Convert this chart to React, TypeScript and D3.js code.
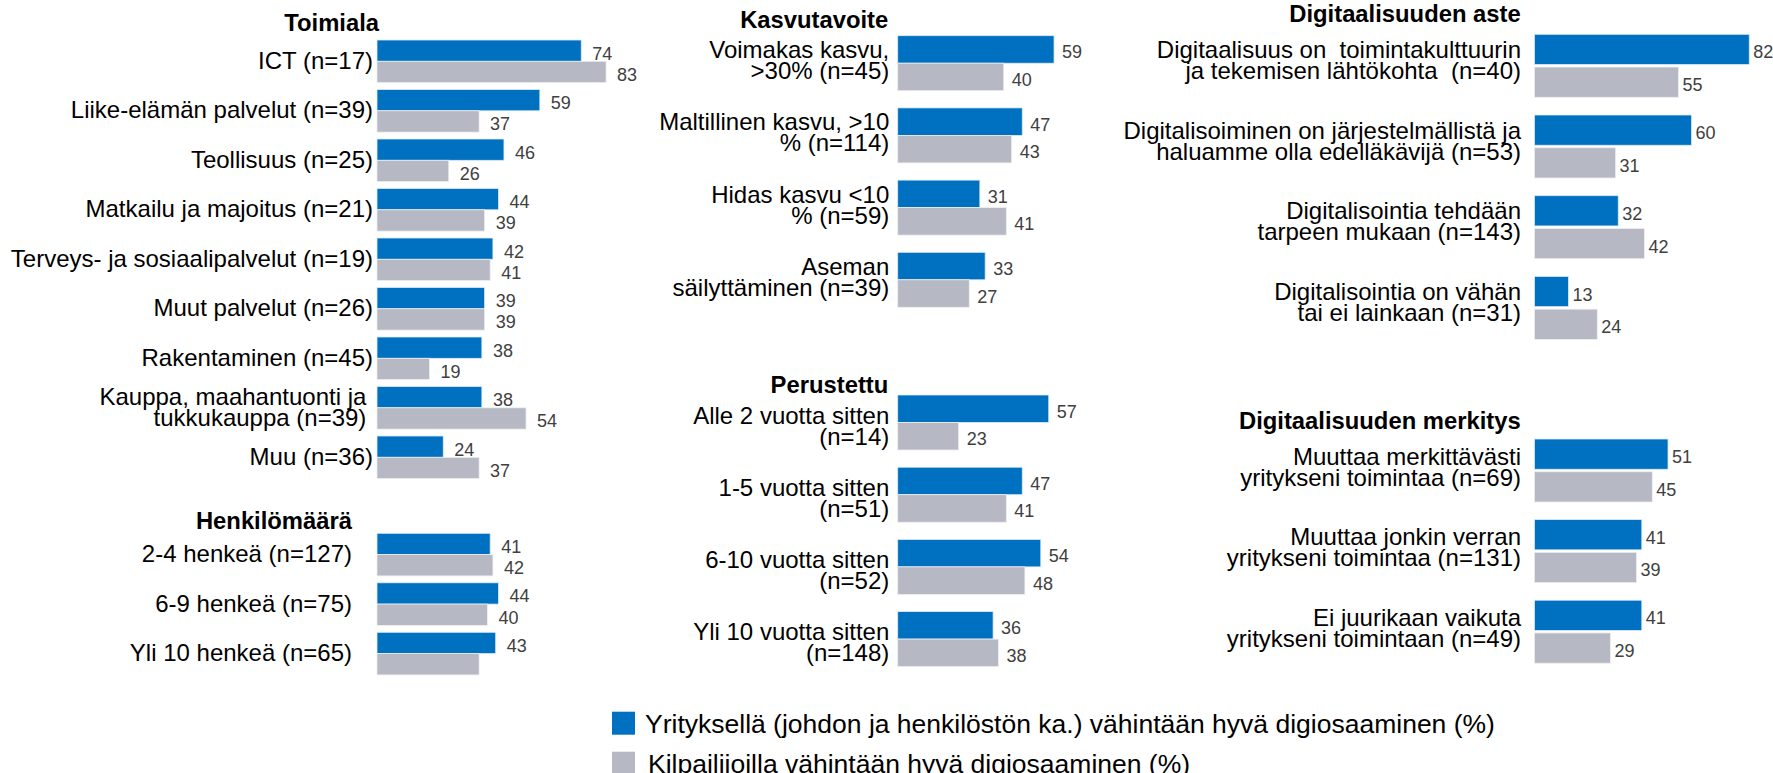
import * as d3 from "d3";

const FONT = '"Liberation Sans", Arial, Helvetica, sans-serif';
const BLUE = "#0070C0";
const GREY = "#B6B8C4";
const VALUE_COLOR = "#404040";

// Toimiala
const toimialaLabels = [
  ["ICT (n=17)"],
  ["Liike-elämän palvelut (n=39)"],
  ["Teollisuus (n=25)"],
  ["Matkailu ja majoitus (n=21)"],
  ["Terveys- ja sosiaalipalvelut (n=19)"],
  ["Muut palvelut (n=26)"],
  ["Rakentaminen (n=45)"],
  ["Kauppa, maahantuonti ja ", "tukkukauppa (n=39) "],
  ["Muu (n=36)"],
];
const toimialaOwn = [74, 59, 46, 44, 42, 39, 38, 38, 24];
const toimialaRivals = [83, 37, 26, 39, 41, 39, 19, 54, 37];

// Henkilömäärä
const henkiloLabels = [["2-4 henkeä (n=127)"], ["6-9 henkeä (n=75)"], ["Yli 10 henkeä (n=65)"]];
const henkiloOwn = [41, 44, 43];
const henkiloRivals = [42, 40, 37];
const henkiloRivalsNoLabel = [2]; // value label missing in the original

// Kasvutavoite
const kasvuLabels = [
  ["Voimakas kasvu,", ">30% (n=45)"],
  ["Maltillinen kasvu, >10", "% (n=114)"],
  ["Hidas kasvu <10", "% (n=59)"],
  ["Aseman", "säilyttäminen (n=39)"],
];
const kasvuOwn = [59, 47, 31, 33];
const kasvuRivals = [40, 43, 41, 27];

// Perustettu
const perustettuLabels = [
  ["Alle 2 vuotta sitten", "(n=14)"],
  ["1-5 vuotta sitten", "(n=51)"],
  ["6-10 vuotta sitten", "(n=52)"],
  ["Yli 10 vuotta sitten", "(n=148)"],
];
const perustettuOwn = [57, 47, 54, 36];
const perustettuRivals = [23, 41, 48, 38];

// Digitaalisuuden aste
const asteLabels = [
  ["Digitaalisuus on  toimintakulttuurin", "ja tekemisen lähtökohta  (n=40)"],
  ["Digitalisoiminen on järjestelmällistä ja", "haluamme olla edelläkävijä (n=53)"],
  ["Digitalisointia tehdään", "tarpeen mukaan (n=143)"],
  ["Digitalisointia on vähän", "tai ei lainkaan (n=31)"],
];
const asteOwn = [82, 60, 32, 13];
const asteRivals = [55, 31, 42, 24];

// Digitaalisuuden merkitys
const merkitysLabels = [
  ["Muuttaa merkittävästi", "yritykseni toimintaa (n=69)"],
  ["Muuttaa jonkin verran", "yritykseni toimintaa (n=131)"],
  ["Ei juurikaan vaikuta", "yritykseni toimintaan (n=49)"],
];
const merkitysOwn = [51, 41, 41];
const merkitysRivals = [45, 39, 29];

const legendItems = [
  "Yrityksellä (johdon ja henkilöstön ka.) vähintään hyvä digiosaaminen (%)",
  "Kilpailijoilla vähintään hyvä digiosaaminen (%)",
];

type Layout = {
  x0: number; // bar start
  k: number; // px per percent
  top: number;
  step: number;
  group: number;
  gap: number;
  labelRight: number;
  titleRight: number;
  titleBaseline: number;
  valueGap: number;
  multiDy: number;
};

const BarPanel = ({
  title,
  labels,
  own,
  rivals,
  hidden = [],
  layout,
}: {
  title: string;
  labels: string[][];
  own: number[];
  rivals: number[];
  hidden?: number[];
  layout: Layout;
}) => {
  const n = labels.length;
  const x = d3
    .scaleLinear()
    .domain([0, 100])
    .range([layout.x0, layout.x0 + 100 * layout.k]);
  const y = d3
    .scaleBand<number>()
    .domain(d3.range(n))
    .range([layout.top, layout.top + (n - 1) * layout.step + layout.group])
    .paddingInner(1 - layout.group / layout.step)
    .paddingOuter(0);
  const barH = (y.bandwidth() - layout.gap) / 2;

  return (
    <g>
      <text
        x={layout.titleRight}
        y={layout.titleBaseline}
        textAnchor="end"
        fontWeight="bold"
        fontSize={23.8}
        fill="#000"
      >
        {title}
      </text>
      {labels.map((lines, i) => {
        const y0 = y(i)!;
        const center = y0 + y.bandwidth() / 2;
        const yOwn = y0;
        const yRiv = y0 + barH + layout.gap;
        const first = lines.length > 1 ? center + layout.multiDy : center + 7.5;
        return (
          <g key={i}>
            <text
              textAnchor="end"
              fontSize={24}
              fill="#000"
              style={{ whiteSpace: "pre" }}
            >
              {lines.map((l, j) => (
                <tspan key={j} x={layout.labelRight} y={first + j * 21}>
                  {l}
                </tspan>
              ))}
            </text>
            <rect
              x={x(0)}
              y={yOwn}
              width={x(own[i]) - x(0)}
              height={barH}
              fill={BLUE}
              stroke="#dfeaf5"
              strokeWidth={0.8}
            />
            <rect
              x={x(0)}
              y={yRiv}
              width={x(rivals[i]) - x(0)}
              height={barH}
              fill={GREY}
              stroke="#eeeeee"
              strokeWidth={0.8}
            />
            <text
              x={x(own[i]) + layout.valueGap}
              y={yOwn + barH / 2 + 9}
              fontSize={18}
              fill={VALUE_COLOR}
            >
              {own[i]}
            </text>
            {!hidden.includes(i) && (
              <text
                x={x(rivals[i]) + layout.valueGap}
                y={yRiv + barH / 2 + 9}
                fontSize={18}
                fill={VALUE_COLOR}
              >
                {rivals[i]}
              </text>
            )}
          </g>
        );
      })}
    </g>
  );
};

const left: Layout = {
  x0: 377, k: 2.76, top: 40, step: 49.5, group: 42.6, gap: 0,
  labelRight: 373, titleRight: 379, titleBaseline: 30.7, valueGap: 11, multiDy: -3,
};
const leftLower: Layout = { ...left, top: 533.3, labelRight: 352, titleRight: 352, titleBaseline: 529.3 };
const mid: Layout = {
  x0: 897.7, k: 2.65, top: 35.7, step: 72.2, group: 55, gap: 0,
  labelRight: 889.3, titleRight: 888.3, titleBaseline: 28.3, valueGap: 8, multiDy: -5,
};
const midLower: Layout = { ...mid, top: 395, titleBaseline: 392.7, multiDy: 1 };
const right: Layout = {
  x0: 1534.4, k: 2.62, top: 34.3, step: 80.7, group: 63, gap: 2.5,
  labelRight: 1521, titleRight: 1520.7, titleBaseline: 21.7, valueGap: 4, multiDy: -8,
};
const rightLower: Layout = { ...right, top: 439, step: 80.6, titleBaseline: 429.3, multiDy: -6 };

export default function App() {
  const legendColors = [BLUE, GREY];
  return (
    <svg
      width={1773}
      height={773}
      style={{ position: "absolute", left: 0, top: 0, background: "#fff" }}
      fontFamily={FONT}
    >
      <BarPanel title="Toimiala" labels={toimialaLabels} own={toimialaOwn} rivals={toimialaRivals} layout={left} />
      <BarPanel
        title="Henkilömäärä"
        labels={henkiloLabels}
        own={henkiloOwn}
        rivals={henkiloRivals}
        hidden={henkiloRivalsNoLabel}
        layout={leftLower}
      />
      <BarPanel title="Kasvutavoite" labels={kasvuLabels} own={kasvuOwn} rivals={kasvuRivals} layout={mid} />
      <BarPanel title="Perustettu" labels={perustettuLabels} own={perustettuOwn} rivals={perustettuRivals} layout={midLower} />
      <BarPanel title="Digitaalisuuden aste" labels={asteLabels} own={asteOwn} rivals={asteRivals} layout={right} />
      <BarPanel
        title="Digitaalisuuden merkitys"
        labels={merkitysLabels}
        own={merkitysOwn}
        rivals={merkitysRivals}
        layout={rightLower}
      />
      {legendItems.map((t, i) => (
        <g key={t} transform={`translate(612, ${711.7 + i * 40})`}>
          <rect width={23} height={23} fill={legendColors[i]} />
          <text x={33 + i * 3} y={21.6} fontSize={26.5} fill="#000">
            {t}
          </text>
        </g>
      ))}
    </svg>
  );
}
